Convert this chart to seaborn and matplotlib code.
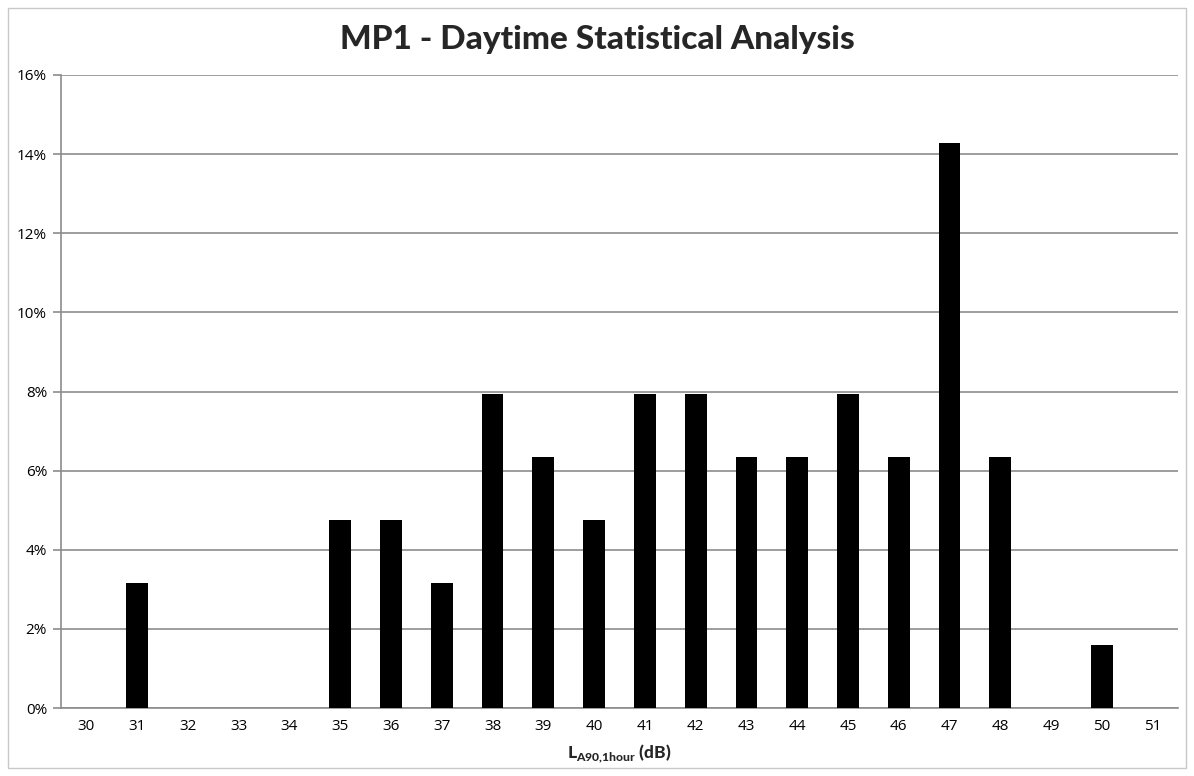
import matplotlib
matplotlib.use("Agg")
import matplotlib.pyplot as plt
import seaborn as sns
import pandas as pd
from matplotlib.patches import Rectangle
from matplotlib.ticker import FuncFormatter, MultipleLocator

levels = [str(v) for v in range(30, 52)]
percent = [0, 3.17, 0, 0, 0, 4.76, 4.76, 3.17, 7.94, 6.35, 4.76, 7.94, 7.94,
           6.35, 6.35, 7.94, 6.35, 14.29, 6.35, 0, 1.59, 0]

df = pd.DataFrame({"level": levels, "pct": percent})

sns.set_theme(style="white")
plt.rcParams["font.family"] = ["Open Sans", "DejaVu Sans"]
plt.rcParams["mathtext.fontset"] = "custom"
plt.rcParams["mathtext.bf"] = "Lato:black"
plt.rcParams["mathtext.rm"] = "Lato:black"

fig = plt.figure(figsize=(11.94, 7.76), dpi=100)
ax = fig.add_axes([61 / 1194, 1 - 708 / 776, (1178 - 61) / 1194, (708 - 75) / 776])

sns.barplot(data=df, x="level", y="pct", color="black", width=0.43,
            saturation=1, ax=ax, zorder=3, linewidth=0)

ax.set_ylim(0, 16)
ax.set_xlim(-0.5, len(levels) - 0.5)
ax.yaxis.set_major_locator(MultipleLocator(2))
ax.yaxis.set_major_formatter(FuncFormatter(lambda v, p: f"{int(v)}%"))
ax.grid(axis="y", color="#8c8c8c", linewidth=1.2, zorder=0)
ax.set_axisbelow(True)

for s in ["top", "right"]:
    ax.spines[s].set_visible(False)
for s in ["left", "bottom"]:
    ax.spines[s].set_color("#8c8c8c")
    ax.spines[s].set_linewidth(1.2)

# ticks between categories
ax.set_xticks(range(len(levels)))
ax.set_xticklabels(levels)
ax.tick_params(axis="x", length=0, labelsize=11, pad=8, colors="black")
ax.set_xticks([i - 0.5 for i in range(len(levels) + 1)], minor=True)
ax.tick_params(axis="x", which="minor", length=6, color="#8c8c8c", width=1.2)
ax.tick_params(axis="y", length=6, color="#8c8c8c", width=1.2, labelsize=11,
               pad=4, left=True, colors="black")

ax.set_xlabel(r"L$_{\mathbf{A90{,}1hour}}$ (dB)", fontsize=12.5, fontweight="black",
              family="Lato", labelpad=6)
ax.set_ylabel("")

fig.text(0.5, 1 - 40 / 776, "MP1 - Daytime Statistical Analysis", ha="center",
         va="center", fontsize=24, fontweight="black", family="Lato")

fig.patches.append(Rectangle((8 / 1194, 8 / 776), 1 - 16 / 1194, 1 - 16 / 776,
                             transform=fig.transFigure, fill=False,
                             edgecolor="#c8c8c8", linewidth=1))

fig.savefig("out.png", dpi=100, facecolor="white")
